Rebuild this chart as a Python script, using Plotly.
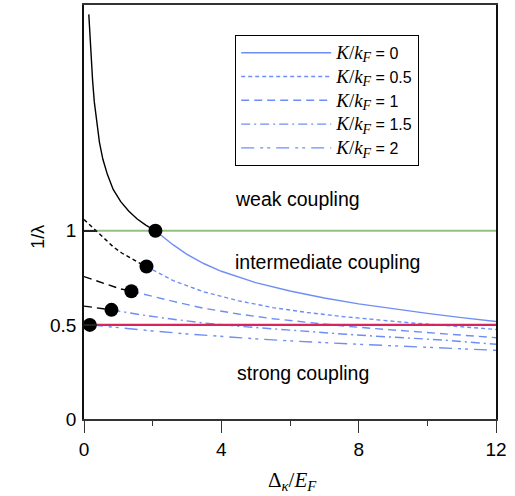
import plotly.graph_objects as go

# ---------------- data ----------------
k_labels = ["0", "0.5", "1", "1.5", "2"]

# black (left) parts of the curves
k0_black_x = [0.14, 0.17, 0.2, 0.25, 0.3, 0.37, 0.45, 0.55, 0.68, 0.85, 1.07, 1.3, 1.55, 1.8, 2.08]
k0_black_y = [2.15, 2.04, 1.94, 1.80, 1.685, 1.57, 1.47, 1.38, 1.30, 1.22, 1.155, 1.105, 1.063, 1.03, 1.0]
k05_black_x = [0.0, 0.2, 0.4, 0.65, 0.87, 1.1, 1.3, 1.55, 1.82]
k05_black_y = [1.06, 1.025, 0.99, 0.948, 0.912, 0.882, 0.86, 0.835, 0.81]
k1_black_x = [0.0, 0.35, 0.7, 1.05, 1.38]
k1_black_y = [0.757, 0.735, 0.71, 0.692, 0.679]
k15_black_x = [0.0, 0.4, 0.8]
k15_black_y = [0.60, 0.59, 0.58]

# blue (right) parts of the curves
k0_x = [2.08, 2.6, 3.0, 3.5, 4.0, 5.0, 6.0, 7.0, 8.0, 9.0, 10.0, 11.0, 12.0]
k0_y = [1.0, 0.925, 0.875, 0.825, 0.785, 0.725, 0.68, 0.643, 0.612, 0.585, 0.561, 0.539, 0.518]
k05_x = [1.82, 2.6, 3.5, 4.5, 5.5, 6.5, 7.5, 8.5, 9.5, 10.5, 12.0]
k05_y = [0.81, 0.735, 0.675, 0.628, 0.592, 0.566, 0.545, 0.527, 0.511, 0.497, 0.476]
k1_x = [1.38, 2.0, 2.6, 3.5, 4.5, 5.5, 6.5, 7.5, 8.5, 9.5, 10.5, 12.0]
k1_y = [0.679, 0.65, 0.625, 0.588, 0.558, 0.533, 0.512, 0.495, 0.48, 0.466, 0.453, 0.432]
k15_x = [0.8, 1.6, 2.6, 3.5, 4.5, 5.5, 6.5, 7.5, 8.5, 9.5, 10.5, 12.0]
k15_y = [0.58, 0.555, 0.53, 0.51, 0.493, 0.478, 0.465, 0.452, 0.44, 0.43, 0.419, 0.397]
k2_x = [0.17, 1.0, 2.0, 3.0, 4.0, 5.0, 6.0, 7.0, 8.0, 9.0, 10.0, 11.0, 12.0]
k2_y = [0.5, 0.484, 0.468, 0.452, 0.438, 0.426, 0.415, 0.405, 0.397, 0.389, 0.381, 0.373, 0.365]

# junction points (black dots)
dot_x = [2.08, 1.82, 1.38, 0.8, 0.17]
dot_y = [1.0, 0.81, 0.679, 0.58, 0.5]

# coupling boundaries
bound_x = [0.0, 12.0]
weak_bound = [1.0, 1.0]
strong_bound = [0.5, 0.5]

x_ticks = [0, 4, 8, 12]
y_ticks = [0, 0.5, 1]

# ---------------- styles ----------------
BLUE = "#6f8ef5"
dashes = ["solid", "4px,3px", "8px,5px", "9px,4px,2px,4px", "13px,6px,3px,4px,3px,6px"]
black_dashes = ["solid", "4px,3px", "8px,5px", "8px,5px"]

fig = go.Figure()

fig.add_trace(go.Scatter(x=bound_x, y=weak_bound, mode="lines",
                         line=dict(color="#94c084", width=2), showlegend=False, hoverinfo="skip"))

blacks = [(k0_black_x, k0_black_y), (k05_black_x, k05_black_y),
          (k1_black_x, k1_black_y), (k15_black_x, k15_black_y)]
for (bx, by), d in zip(blacks, black_dashes):
    fig.add_trace(go.Scatter(x=bx, y=by, mode="lines",
                             line=dict(color="black", width=1.4, dash=d),
                             showlegend=False, hoverinfo="skip"))

SERIF = "font-family:'Liberation Serif';font-size:19px"
SUBF = "font-family:'Liberation Serif';font-size:14px"
blues = [(k0_x, k0_y), (k05_x, k05_y), (k1_x, k1_y), (k15_x, k15_y), (k2_x, k2_y)]
for (bx, by), d, lab in zip(blues, dashes, k_labels):
    name = (f'<span style="{SERIF}"><i>K</i>/<i>k</i></span>'
            f'<sub><span style="{SUBF}"><i>F</i></span></sub> = ' + lab)
    fig.add_trace(go.Scatter(x=bx, y=by, mode="lines",
                             line=dict(color=BLUE, width=1.4, dash=d),
                             name=name))

fig.add_trace(go.Scatter(x=bound_x, y=strong_bound, mode="lines",
                         line=dict(color="#d8245c", width=2.2), showlegend=False, hoverinfo="skip"))

fig.add_trace(go.Scatter(x=dot_x, y=dot_y, mode="markers",
                         marker=dict(color="black", size=14), showlegend=False, hoverinfo="skip"))

ann_font = dict(family="Liberation Sans, Arial, sans-serif", size=19.5, color="black")
fig.add_annotation(x=6.22, y=1.17, text="weak coupling", showarrow=False, font=ann_font)
fig.add_annotation(x=7.1, y=0.835, text="intermediate coupling", showarrow=False, font=ann_font)
fig.add_annotation(x=6.38, y=0.245, text="strong coupling", showarrow=False, font=ann_font)

# y-axis title as an annotation placed beside y = 1
fig.add_annotation(xref="paper", yref="y", x=-0.14, y=0.97, text="1/λ", textangle=-90,
                   showarrow=False, font=dict(family="Liberation Sans, Arial, sans-serif", size=18))
# x-axis title
fig.add_annotation(xref="x", yref="paper", x=6.08, y=-0.15, yanchor="middle",
                   text="Δ<sub><i>κ</i></sub>/<i>E</i><sub><i>F</i></sub>", showarrow=False,
                   font=dict(family="Liberation Serif, Times New Roman, serif", size=21))

fig.update_layout(
    width=515, height=496,
    margin=dict(l=84, r=19, t=3, b=77),
    paper_bgcolor="white", plot_bgcolor="white",
    font=dict(family="Liberation Sans, Arial, sans-serif", size=19, color="black"),
    showlegend=True,
    legend=dict(x=0.367, y=0.928, xanchor="left", yanchor="top",
                bordercolor="black", borderwidth=1, bgcolor="white",
                font=dict(family="Liberation Sans, Arial, sans-serif", size=16),
                itemwidth=90, tracegroupgap=0),
)
fig.update_xaxes(range=[0, 12], tickvals=x_ticks, ticks="outside", ticklen=12, tickwidth=1.2,
                 tickcolor="#333", showgrid=False, zeroline=False,
                 showline=True, linecolor="#333", linewidth=1.5, mirror=True,
                 minor=dict(tickvals=[2, 6, 10], ticks="outside", ticklen=5, tickcolor="#333"))
fig.update_yaxes(range=[0, 2.2], tickvals=y_ticks, ticktext=["0", "0.5", "1"], ticks="inside",
                 ticklen=13, tickwidth=2, tickcolor="#222", showgrid=False, zeroline=False,
                 showline=True, linecolor="#111", linewidth=1.5, mirror=True,
                 ticklabelstandoff=2)

fig.write_html("out.html", config={"displayModeBar": False},
               post_script="document.body.style.margin='0';")
